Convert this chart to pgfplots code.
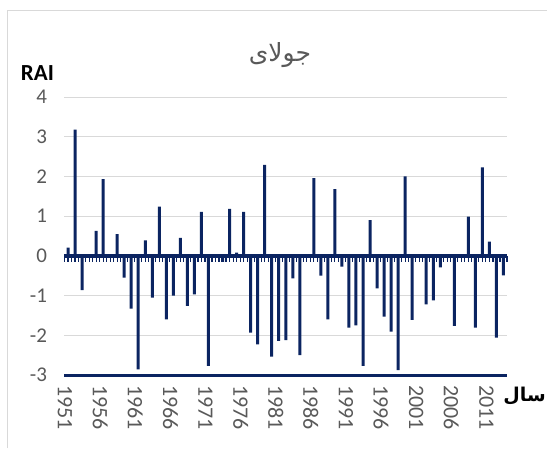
\documentclass[border=0pt]{standalone}
\usepackage{fontspec}
\setmainfont{Carlito}
\newfontfamily\arabicfont[Script=Arabic]{DejaVu Sans}
\TeXXeTstate=1
\usepackage{pgfplots}
\usepackage{pgfplotstable}
\pgfplotsset{compat=1.18}
\definecolor{barblue}{HTML}{0B2461}
\definecolor{gridgray}{HTML}{D9D9D9}
\definecolor{labgray}{HTML}{595959}

\pgfplotstableread{
year rai
1951 0.21
1952 3.18
1953 -0.86
1954 0
1955 0.63
1956 1.93
1957 0
1958 0.55
1959 -0.55
1960 -1.33
1961 -2.86
1962 0.39
1963 -1.05
1964 1.24
1965 -1.60
1966 -1.00
1967 0.45
1968 -1.26
1969 -0.97
1970 1.11
1971 -2.77
1972 0
1973 -0.15
1974 1.18
1975 0.08
1976 1.11
1977 -1.93
1978 -2.23
1979 2.29
1980 -2.54
1981 -2.14
1982 -2.12
1983 -0.57
1984 -2.50
1985 0.03
1986 1.96
1987 -0.50
1988 -1.60
1989 1.68
1990 -0.27
1991 -1.81
1992 -1.75
1993 -2.77
1994 0.90
1995 -0.82
1996 -1.53
1997 -1.91
1998 -2.88
1999 2.00
2000 -1.61
2001 0
2002 -1.22
2003 -1.12
2004 -0.29
2005 0
2006 -1.76
2007 0
2008 0.99
2009 -1.81
2010 2.23
2011 0.36
2012 -2.06
2013 -0.49
}\raidata

\begin{document}
\begin{tikzpicture}[x=1pt,y=1pt]
\useasboundingbox (0,0) rectangle (547,448);
\draw[gridgray, line width=1pt] (7.5,0) -- (7.5,437.5) -- (547,437.5);
\begin{axis}[
  at={(64.5pt,73pt)}, anchor=south west, scale only axis,
  width=442.5pt, height=278pt,
  xmin=1950.5, xmax=2013.5, ymin=-3, ymax=4,
  axis x line*=bottom, axis y line*=left,
  x axis line style={barblue, line width=3pt, -},
  y axis line style={draw=none},
  xtick={1951,1956,...,2011},
  ytick={-3,-2,-1,0,1,2,3,4},
  yticklabels={-3,-2,-1,0,1,2,3,4},
  major tick length=0pt,
  ymajorgrids, grid style={gridgray, line width=1pt},
  xticklabel style={xshift=-3pt, rotate=-90, anchor=west, font=\fontsize{22}{22}\selectfont, text=labgray,
    /pgf/number format/1000 sep={}},
  yticklabel style={font=\fontsize{21}{21}\selectfont, text=labgray},
  xticklabel shift=7pt, yticklabel shift=14pt,
  /pgf/number format/assume math mode=true,
  /pgf/number format/1000 sep={},
  clip=false,
]
\addplot[ybar, bar width=3pt, fill=barblue, draw=none] table[x=year, y=rai] {\raidata};
\draw[barblue, line width=3.5pt] (axis cs:1950.5,0) -- (axis cs:2013.5,0);
\pgfplotsinvokeforeach{1950.5,1951,...,2013.5}{
  \draw[barblue, line width=1.1pt] (axis cs:#1,0) -- ([yshift=-6.5pt]axis cs:#1,0);
}
\end{axis}
\node[text=labgray] at (280,393) {\arabicfont\fontsize{25}{25}\selectfont\beginR جولای\endR};
\node at (37.5,375) {\fontsize{23}{23}\selectfont\bfseries RAI};
\node[anchor=east, inner sep=0pt] at (546,51.5) {\arabicfont\fontsize{19}{19}\selectfont\bfseries\beginR سال\endR};
\end{tikzpicture}
\end{document}
